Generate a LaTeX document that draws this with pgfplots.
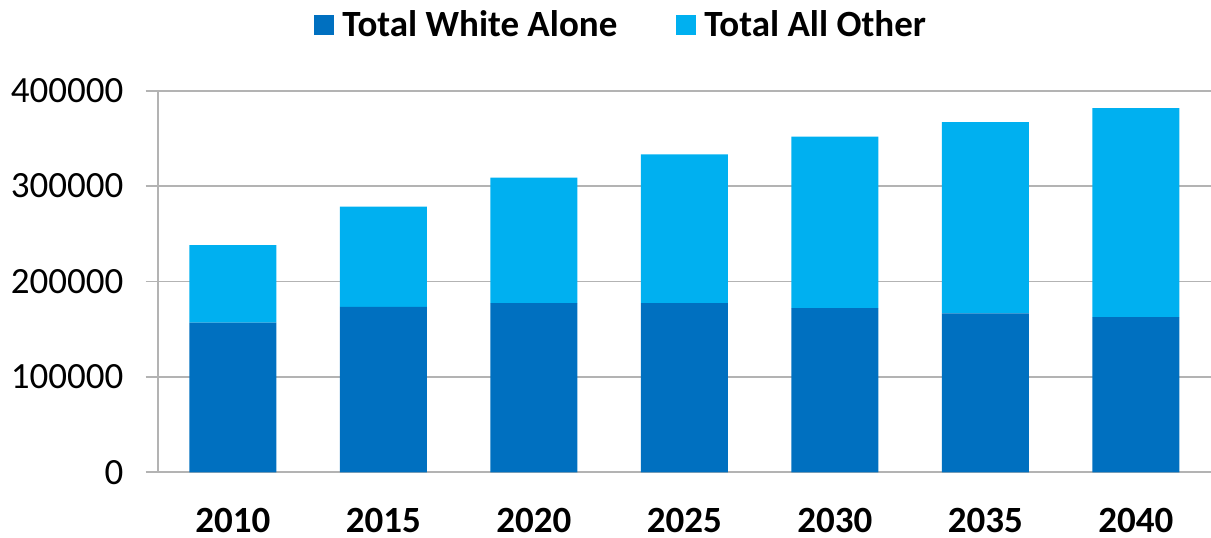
\documentclass[border=0pt]{standalone}
\usepackage{fontspec}
\setmainfont{Carlito}
\usepackage{pgfplots}
\pgfplotsset{compat=1.18}
\definecolor{cwhite}{HTML}{0070C0}
\definecolor{cother}{HTML}{00B0F0}
\definecolor{gridgray}{HTML}{B3B3B3}
\begin{document}
\begin{tikzpicture}
\begin{axis}[
  at={(78.85pt,32.35pt)}, anchor=south west,
  scale only axis, width=526.65pt, height=190.8pt,
  ybar stacked, bar width=43.5pt,
  xmin=-0.5, xmax=6.5, ymin=0, ymax=400000,
  xtick={0,1,2,3,4,5,6},
  xticklabels={2010,2015,2020,2025,2030,2035,2040},
  ytick={0,100000,200000,300000,400000},
  scaled y ticks=false,
  yticklabel style={/pgf/number format/fixed, /pgf/number format/precision=0,
    /pgf/number format/1000 sep={}, /pgf/number format/assume math mode=true,
    font=\fontsize{18.5pt}{22pt}\selectfont, anchor=east, inner sep=0pt, xshift=-11pt},
  axis x line*=bottom, axis y line*=left,
  axis line style={draw=gridgray, line width=0.9pt, -},
  ymajorgrids, grid style={draw=gridgray, line width=0.9pt},
  tick align=outside, major tick length=6pt,
  ytick style={draw=gridgray, line width=0.9pt},
  xtick style={draw=none},
  xticklabel style={font=\bfseries\fontsize{18.5pt}{22pt}\selectfont, anchor=north, inner sep=0pt, yshift=-12pt},
  legend columns=2,
  legend image code/.code={\fill[#1] (0pt,-5pt) rectangle (10pt,5pt);},
  legend style={at={(0.1484,1.1722)}, anchor=west, draw=none, fill=none,
    font=\bfseries\fontsize{18.5pt}{22pt}\selectfont,
    inner sep=0pt, nodes={inner sep=0pt},
    /tikz/every odd column/.append style={column sep=4pt},
    /tikz/every even column/.append style={column sep=29.5pt}},
]
\addplot[fill=cwhite, draw=none] coordinates {(0,157000) (1,173400) (2,177300) (3,177400) (4,172000) (5,166700) (6,162600)};
\addplot[fill=cother, draw=none] coordinates {(0,81100) (1,105100) (2,131500) (3,155900) (4,179900) (5,200300) (6,219100)};
\legend{Total White Alone, Total All Other}
\end{axis}
\pgfresetboundingbox
\path[use as bounding box] (0,0) rectangle (605.5pt,268.5pt);
\end{tikzpicture}
\end{document}
